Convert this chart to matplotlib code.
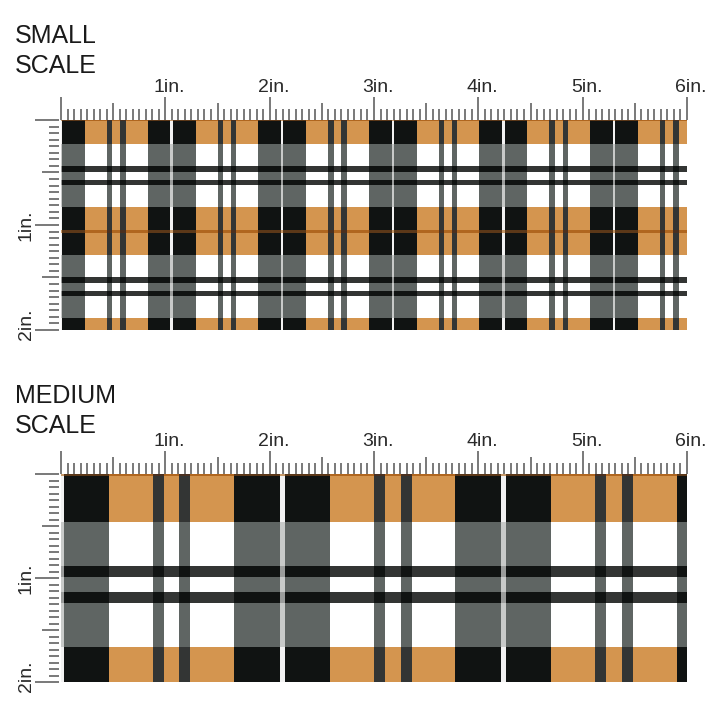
import numpy as np
import matplotlib.pyplot as plt
from matplotlib.colors import to_rgb

plt.rcParams['font.family'] = ['Liberation Sans', 'DejaVu Sans']

# plaid sett, half repeat measured from the centre of the dark band (inches at small scale)
sett_types = ['line', 'band', 'ground', 'stripe', 'ground']
sett_widths = [0.012, 0.218, 0.210, 0.053, 0.037]

type_names = ['line', 'band', 'ground', 'stripe']
# colour where a row type (weft) crosses a column type (warp)
cross_colors = [
    ['#c89a6a', '#5c3818', '#b0661f', '#4a3020'],   # line row
    ['#f2f2f2', '#101312', '#d4954f', '#333534'],   # band row
    ['#c8cac9', '#5f6563', '#ffffff', '#5f6563'],   # ground row
    ['#9a9c9b', '#101312', '#333534', '#101312'],   # stripe row
]

scale_titles = [['SMALL', 'SCALE'], ['MEDIUM', 'SCALE']]
scale_factors = [1, 2]
top_labels = ['1in.', '2in.', '3in.', '4in.', '5in.', '6in.']
side_labels = ['1in.', '2in.']
swatch_w = 6
swatch_h = 2

# swatch boxes in pixels: left, right, top, bottom
boxes = [(61, 687, 120, 330), (61, 687, 474, 682)]
title_y = [(43, 73), (403, 433)]

W = H = 720
fig = plt.figure(figsize=(7.2, 7.2), dpi=100)


def stripes(factor, length):
    kinds_half = [type_names.index(t) for t in sett_types]
    kinds = kinds_half + kinds_half[::-1]
    widths = list(np.array(sett_widths) * factor)
    widths = widths + widths[::-1]
    edges = [0.0]
    out = []
    while edges[-1] < length:
        for k, w in zip(kinds, widths):
            out.append(k)
            edges.append(edges[-1] + w)
    return np.array(edges), np.array(out)


table = np.array([[to_rgb(c) for c in row] for row in cross_colors])
tick_col = '#555555'

for (l, r, t, b), factor, titles, ty in zip(boxes, scale_factors, scale_titles, title_y):
    ax = fig.add_axes([l / W, 1 - b / H, (r - l) / W, (b - t) / H])
    ppx = (r - l) / swatch_w
    ppy = (b - t) / swatch_h

    xe, xk = stripes(factor, swatch_w)
    ye, yk = stripes(factor, swatch_h)
    C = table[yk[:, None], xk[None, :]]
    ax.pcolormesh(xe, ye, C, shading='flat', antialiased=False)
    ax.set_xlim(0, swatch_w)
    ax.set_ylim(swatch_h, 0)
    ax.axis('off')

    # top ruler, 1/16 inch ticks
    for k in range(swatch_w * 16 + 1):
        h = 23 if k % 16 == 0 else (17 if k % 8 == 0 else 11)
        ax.plot([k / 16, k / 16], [0, -h / ppy], color=tick_col, lw=1.1,
                clip_on=False, solid_capstyle='butt')
    # left ruler
    for k in range(swatch_h * 16 + 1):
        ln = 24 if k % 16 == 0 else (17 if k % 8 == 0 else 10)
        ax.plot([-2.5 / ppx, -(2.5 + ln) / ppx], [k / 16, k / 16], color=tick_col,
                lw=1.1, clip_on=False, solid_capstyle='butt')

    for i, lab in enumerate(top_labels):
        ax.text(i + 1 + 4 / ppx, -28 / ppy, lab, ha='center', va='baseline',
                fontsize=14, color='#2a2a2a', clip_on=False)
    for i, lab in enumerate(side_labels):
        yc = i + 1 - (0 if i == 0 else 6 / ppy)
        ax.text(-35 / ppx, yc, lab, ha='center', va='center', rotation=90,
                fontsize=14, color='#2a2a2a', clip_on=False)

    for txt, yb in zip(titles, ty):
        fig.text(15 / W, 1 - yb / H, txt, ha='left', va='baseline',
                 fontsize=18, color='#1a1a1a')

fig.savefig('out.png', dpi=100)
